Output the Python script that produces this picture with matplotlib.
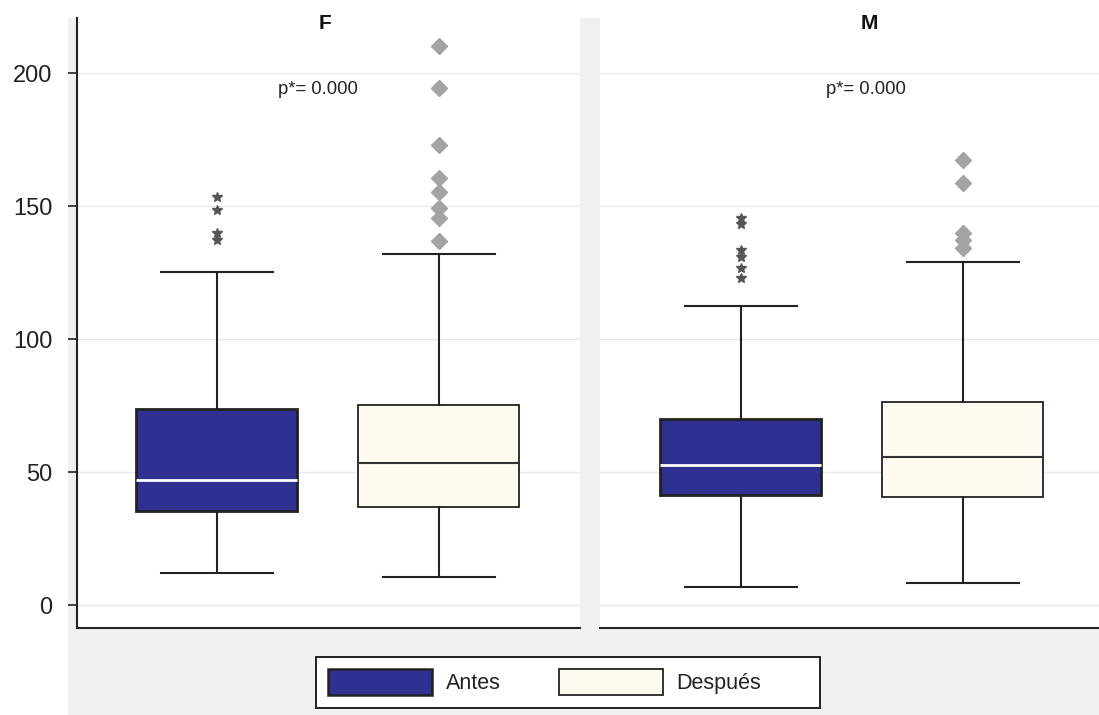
import matplotlib
matplotlib.use("Agg")
import matplotlib.pyplot as plt
from matplotlib.patches import Rectangle, Patch

plt.rcParams['font.family'] = ['Liberation Sans', 'DejaVu Sans']

panels = ["F", "M"]
groups = ["Antes", "Después"]
p_text = ["p*= 0.000", "p*= 0.000"]
yticks = [0, 50, 100, 150, 200]

# stats per panel: [Antes, Después]
q1 = {"F": [35.3, 36.8], "M": [41.4, 40.6]}
q3 = {"F": [73.7, 75.2], "M": [69.9, 76.3]}
med = {"F": [47.0, 53.4], "M": [52.6, 55.6]}
wlo = {"F": [12.0, 10.5], "M": [6.8, 8.3]}
whi = {"F": [125.2, 132.0], "M": [112.4, 128.9]}
fliers = {
    "F": [[153.4, 148.6, 140.0, 137.4],
          [210.2, 194.4, 172.9, 160.5, 155.3, 149.2, 145.5, 136.8]],
    "M": [[145.5, 143.2, 133.5, 130.8, 126.8, 122.9],
          [167.3, 158.6, 139.8, 137.2, 134.4]],
}

col_antes = "#2e3192"
col_desp = "#fefaf0"
edge = "#222222"
bg = "#f0f0f0"

W, H = 1099, 715
fig = plt.figure(figsize=(W / 100, H / 100), dpi=100, facecolor="white")
fig.patches.append(Rectangle((68 / W, 0), 1 - 68 / W, 1 - 18 / H,
                             transform=fig.transFigure, facecolor=bg,
                             edgecolor="none", zorder=-10))
# legend frame
fig.patches.append(Rectangle((316 / W, 1 - 708 / H), (820 - 316) / W,
                             (708 - 657) / H, transform=fig.transFigure,
                             facecolor="white", edgecolor="#111111",
                             lw=1.3, zorder=-5))

bottom = 1 - 628 / H
top = 1 - 18 / H
ax_specs = [(77 / W, 580 / W, -0.63, 1.635), (600 / W, 1.0, -0.635, 1.613)]
title_x = [0.486, 0.58]
ptx = [0.455, 0.563]

ylo = -8.6
yhi = ylo + (628 - 18) / 2.66

for i, pn in enumerate(panels):
    l, r, x0, x1 = ax_specs[i]
    ax = fig.add_axes([l, bottom, r - l, top - bottom])
    ax.set_facecolor("white")
    for y in yticks:
        ax.axhline(y, color="#e8e8e8", lw=1, zorder=0)
    for j, g in enumerate(groups):
        st = [dict(med=med[pn][j], q1=q1[pn][j], q3=q3[pn][j],
                   whislo=wlo[pn][j], whishi=whi[pn][j],
                   fliers=fliers[pn][j], label=g)]
        fc = col_antes if j == 0 else col_desp
        if j == 0:
            fp = dict(marker="*", markersize=7, markerfacecolor="#555555",
                      markeredgecolor="#555555", linestyle="none")
            mp = dict(color="white", lw=2)
            bp = dict(facecolor=fc, edgecolor=edge, lw=2)
        else:
            fp = dict(marker="D", markersize=8, markerfacecolor="#a3a3a3",
                      markeredgecolor="#a3a3a3", linestyle="none")
            mp = dict(color="#333333", lw=1.5)
            bp = dict(facecolor=fc, edgecolor=edge, lw=1.3)
        ax.bxp(st, positions=[j], widths=0.725, capwidths=0.505,
               patch_artist=True, boxprops=bp, medianprops=mp,
               whiskerprops=dict(color=edge, lw=1.5),
               capprops=dict(color=edge, lw=1.5), flierprops=fp,
               manage_ticks=False, zorder=3)
    ax.set_xlim(x0, x1)
    ax.set_ylim(ylo, yhi)
    ax.set_xticks([])
    for s in ["top", "right"]:
        ax.spines[s].set_visible(False)
    ax.spines["bottom"].set_color("#222222")
    ax.spines["bottom"].set_linewidth(1.5)
    if i == 0:
        ax.spines["left"].set_color("#222222")
        ax.spines["left"].set_linewidth(1.5)
        ax.set_yticks(yticks)
        ax.tick_params(axis="y", direction="out", length=6.5, width=1.2,
                       color="#222222", labelsize=17, pad=11,
                       labelcolor="#222222")
    else:
        ax.spines["left"].set_visible(False)
        ax.set_yticks([])
    ax.text(title_x[i], 218.6, pn, ha="center", va="center",
            fontsize=15, fontweight="bold", color="#111111")
    ax.text(ptx[i], 194.0, p_text[i], ha="center", va="center",
            fontsize=13.3, color="#222222")

handles = [Patch(facecolor=col_antes, edgecolor=edge, lw=1.8),
           Patch(facecolor=col_desp, edgecolor=edge, lw=1.3)]
leg = fig.legend(handles, groups, loc="center left", ncol=2,
                 bbox_to_anchor=(328 / W, 1 - 682 / H),
                 fontsize=15.5, handlelength=4.85, handleheight=1.55,
                 columnspacing=2.7, handletextpad=0.62, borderpad=0,
                 borderaxespad=0, frameon=False)
for t in leg.get_texts():
    t.set_color("#222222")

fig.savefig("out.png", dpi=100, facecolor="white")
